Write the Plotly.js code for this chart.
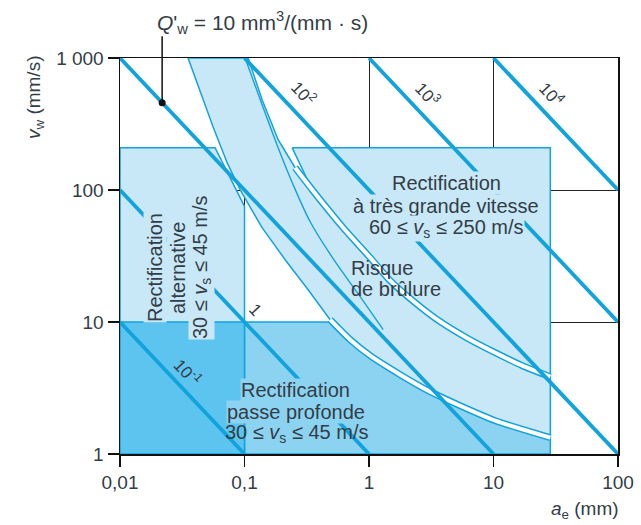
<!DOCTYPE html>
<html><head><meta charset="utf-8">
<script src="https://cdn.plot.ly/plotly-3.0.1.min.js"></script>
<style>body{margin:0;background:#fff}#c{width:641px;height:525px}</style>
</head><body><div id="c"></div>
<script>
// ---- data ----
// iso-lines of specific removal rate Q'w = ae * vw (mm3/(mm.s))
const qLabels = ['10<sup>-1</sup>', '1', '10', '10<sup>2</sup>', '10<sup>3</sup>', '10<sup>4</sup>'];
const qStartAe = [0.01, 0.01, 0.01, 0.1, 1, 10];
const qStartVw = [10, 100, 1000, 1000, 1000, 1000];
const qEndAe   = [0.1, 1, 10, 100, 100, 100];
const qEndVw   = [1, 1, 1, 1, 10, 100];

// deep grinding region (passe profonde)
const deepAe = [0.01, 28.6, 28.6, 0.01];
const deepVw = [1, 1, 10, 10];
// reciprocating grinding region (alternative)
const altAe = [0.01, 0.01, 0.058, 0.1, 0.1];
const altVw = [1, 209, 209, 75, 1];
// overlap of both
const overlapAe = [0.01, 0.1, 0.1, 0.01];
const overlapVw = [1, 1, 10, 10];
// high speed region (très grande vitesse): corner + right side, lower edge follows burn upper limit
const hsAe = [0.2413, 28.6];
const hsVw = [209.2, 209.2];
// burn risk band: lower and upper limits
const burnLowAe = [0.0352, 0.044, 0.0559, 0.0725, 0.0922, 0.1385, 0.2121, 0.3246, 0.4876, 0.7063, 1.022, 1.781, 3.105, 5.409, 10.34, 28.6];
const burnLowVw = [1000, 555, 301.6, 161.0, 100.5, 51.8, 29.65, 17.57, 10.41, 7.34, 5.555, 3.99, 2.965, 2.322, 1.788, 1.329];
const burnUpAe  = [0.1069, 0.1385, 0.1863, 0.2551, 0.3495, 0.6203, 1.022, 1.48, 2.351, 3.736, 6.272, 10.34, 17.04, 28.6];
const burnUpVw  = [1000, 483.2, 240.5, 147.5, 100.5, 51.8, 30.7, 20.55, 14.0, 10.05, 7.47, 5.853, 4.667, 3.851];
// inner limit line inside the burn band
const burnMidAe = [0.1011, 0.1385, 0.1863, 0.2459, 0.3368, 0.5351, 0.8498, 1.30];
const burnMidVw = [1000, 442.9, 209.2, 109.7, 57.5, 28.63, 15.55, 8.75];
// callout point on the Q'w = 10 line
const calloutAe = [0.0218];
const calloutVw = [459];
// ticks
const xTickVals = [0.01, 0.1, 1, 10, 100];
const xTickText = ['0,01', '0,1', '1', '10', '100'];
const yTickVals = [1, 10, 100, 1000];
const yTickText = ['1', '10', '100', '1 000'];

// ---- styles ----
const LIGHT = '#c8e8f7', MED = '#8cd2f1', DARK = '#5cc4ef', BLUE = '#12a3dd', TXT = '#333d47';
const FONT = 'Liberation Sans, Arial, sans-serif';

const traces = [];
function poly(x, y, fill, lw) {
  traces.push({x: x.concat([x[0]]), y: y.concat([y[0]]), mode: 'lines', fill: 'toself', fillcolor: fill,
    line: {color: BLUE, width: lw}, hoverinfo: 'skip', showlegend: false});
}
poly(deepAe, deepVw, MED, 1.5);
poly(altAe, altVw, LIGHT, 1.5);
poly(overlapAe, overlapVw, DARK, 1.5);
// high speed box: corner, right edge, then back along the upper burn limit
const hsStart = 4; // burn upper limit points bordering the box
poly(hsAe.concat(burnUpAe.slice(hsStart).reverse()), hsVw.concat(burnUpVw.slice(hsStart).reverse()), LIGHT, 1.5);
// burn band
poly(burnLowAe.concat(burnUpAe.slice().reverse()), burnLowVw.concat(burnUpVw.slice().reverse()), LIGHT, 1.5);
traces.push({x: burnMidAe, y: burnMidVw, mode: 'lines', line: {color: BLUE, width: 1.4, shape: 'spline', smoothing: 0.8},
  hoverinfo: 'skip', showlegend: false});
// double boundaries (blue / white / blue)
function stripe(x, y) {
  traces.push({x, y, mode: 'lines', line: {color: BLUE, width: 7, shape: 'spline', smoothing: 0.6}, hoverinfo: 'skip', showlegend: false});
  traces.push({x, y, mode: 'lines', line: {color: '#ffffff', width: 4, shape: 'spline', smoothing: 0.6}, hoverinfo: 'skip', showlegend: false});
}
stripe(burnLowAe.slice(8), burnLowVw.slice(8));
stripe(burnUpAe.slice(hsStart - 1), burnUpVw.slice(hsStart - 1));
// iso lines
for (let i = 0; i < qLabels.length; i++) {
  traces.push({x: [qStartAe[i], qEndAe[i]], y: [qStartVw[i], qEndVw[i]], mode: 'lines',
    line: {color: BLUE, width: 3.8}, hoverinfo: 'skip', showlegend: false});
}
traces.push({x: calloutAe, y: calloutVw, mode: 'markers', marker: {color: '#111', size: 7},
  hoverinfo: 'skip', showlegend: false});

// pixel helpers for annotations (paper coords)
const L = 120, T = 58, W = 498, H = 396;
const px = p => (p - L) / W, py = p => (T + H - p) / H;
function ann(text, x, y, o) {
  return Object.assign({text, xref: 'paper', yref: 'paper', x: px(x), y: py(y), showarrow: false,
    font: {family: FONT, size: 20, color: TXT}, xanchor: 'center', yanchor: 'middle', borderpad: 0}, o || {});
}
const lf = {family: FONT, size: 17, color: TXT};
const annotations = [
  // line labels
  ann(qLabels[0], 188, 372, {textangle: 47, font: lf}),
  ann(qLabels[1], 255, 309, {textangle: 47, font: lf}),
  ann(qLabels[3], 304, 93, {textangle: 47, font: lf}),
  ann(qLabels[4], 428, 94, {textangle: 47, font: lf}),
  ann(qLabels[5], 552, 94, {textangle: 47, font: lf}),
  // region labels
  ann('Rectification', 446, 183, {bgcolor: LIGHT}),
  ann('à très grande vitesse', 446, 206, {bgcolor: LIGHT}),
  ann('60 ≤ <i>v</i><sub>s</sub> ≤ 250 m/s', 446, 228, {bgcolor: LIGHT}),
  ann('Risque', 350, 268, {xanchor: 'left'}),
  ann('de brûlure', 350, 289, {xanchor: 'left'}),
  ann('Rectification', 295, 390, {bgcolor: MED}),
  ann('passe profonde', 296, 412, {bgcolor: MED}),
  ann('30 ≤ <i>v</i><sub>s</sub> ≤ 45 m/s', 296, 433),
  ann('Rectification', 155, 268, {textangle: -90, bgcolor: LIGHT}),
  ann('alternative', 178, 268, {textangle: -90, bgcolor: LIGHT}),
  ann('30 ≤ <i>v</i><sub>s</sub> ≤ 45 m/s', 201, 268, {textangle: -90, bgcolor: LIGHT}),
  // titles
  ann("<i>Q</i>'<sub>w</sub> = 10 mm<sup>3</sup>/(mm · s)", 262, 23, {font: {family: FONT, size: 21, color: TXT}}),
  ann('<i>v</i><sub>w</sub> (mm/s)', 35, 98, {textangle: -90, font: {family: FONT, size: 19, color: TXT}}),
  ann('<i>a</i><sub>e</sub> (mm)', 585, 510, {font: {family: FONT, size: 19, color: TXT}}),
  // leader line
  {x: Math.log10(calloutAe[0]), y: Math.log10(calloutVw[0]), xref: 'x', yref: 'y', text: '', showarrow: true,
   arrowhead: 0, arrowwidth: 1.5, arrowcolor: '#111', ax: 0, ay: -68, standoff: 0}
];

const axisCommon = {type: 'log', showgrid: true, gridcolor: '#222', gridwidth: 1, showline: true, linecolor: '#111',
  linewidth: 1.5, mirror: true, ticks: 'outside', ticklen: 11, tickcolor: '#111', tickwidth: 1.5, zeroline: false,
  tickfont: {family: FONT, size: 19, color: TXT}, fixedrange: true};
const layout = {
  width: 641, height: 525, margin: {l: L, r: 641 - L - W, t: T, b: 525 - T - H},
  paper_bgcolor: '#fff', plot_bgcolor: '#fff', showlegend: false,
  xaxis: Object.assign({}, axisCommon, {range: [-2, 2], tickvals: xTickVals, ticktext: xTickText}),
  yaxis: Object.assign({}, axisCommon, {range: [0, 3], tickvals: yTickVals, ticktext: yTickText}),
  annotations
};
Plotly.newPlot('c', traces, layout, {displayModeBar: false, staticPlot: true});
</script></body></html>
